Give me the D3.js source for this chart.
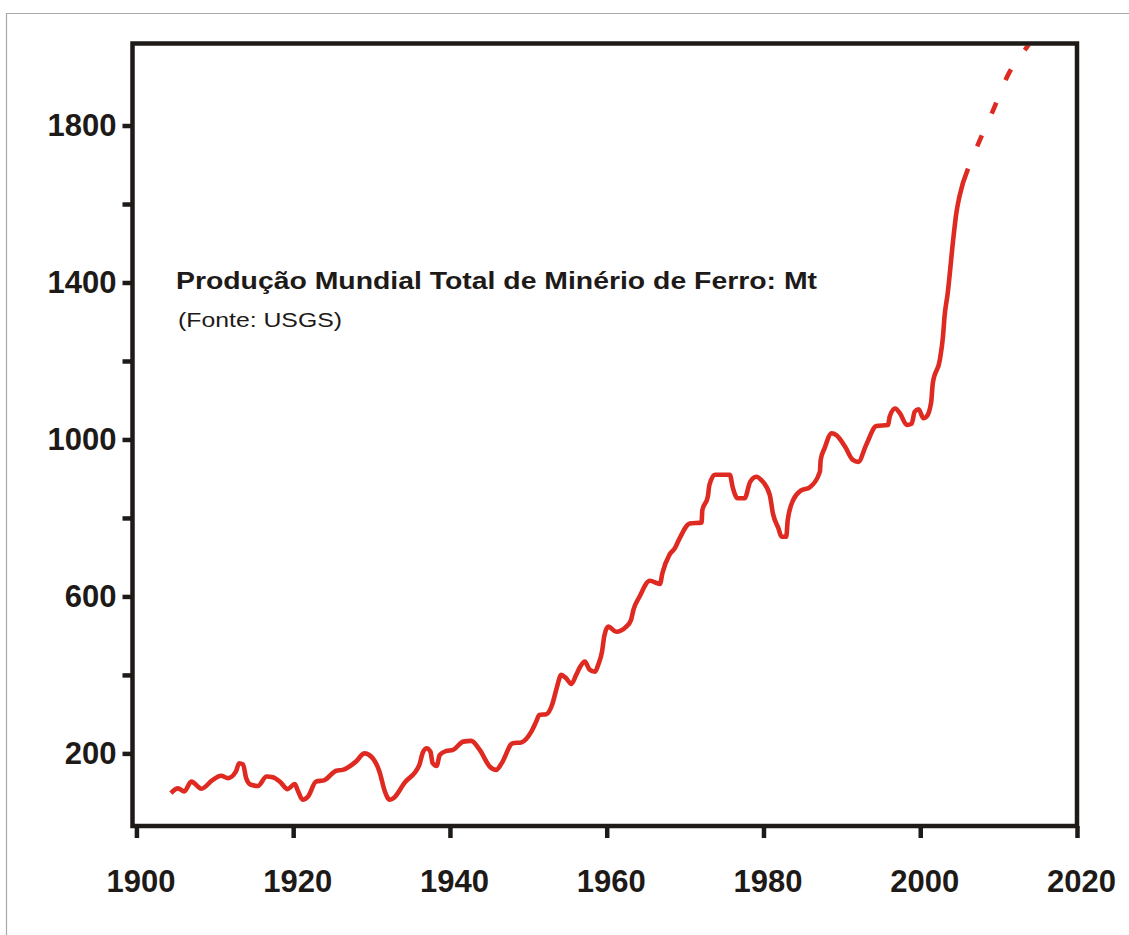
<!DOCTYPE html>
<html>
<head>
<meta charset="utf-8">
<script src="https://cdn.jsdelivr.net/npm/d3@7"></script>
<style>
  body { margin: 0; background: #fff; }
  svg { display: block; font-family: "Liberation Sans", Arial, sans-serif; }
</style>
</head>
<body>
<svg width="1129" height="935"></svg>
<script>
// world iron ore production, Mt
var years = [1904.4, 1905.3, 1906.1, 1907.0, 1908.3, 1909.7, 1910.8, 1911.7, 1912.7, 1913.1,
  1913.6, 1914.0, 1914.6, 1915.5, 1916.6, 1917.4, 1918.3, 1919.3, 1920.2, 1920.6,
  1921.2, 1921.9, 1922.9, 1924.0, 1925.5, 1926.3, 1928.0, 1929.1, 1929.7, 1931.0,
  1931.7, 1932.3, 1932.8, 1934.2, 1936.1, 1936.5, 1937.0, 1937.5, 1937.8, 1938.3, 1938.7, 1939.5,
  1940.4, 1941.7, 1942.7, 1943.8, 1945.1, 1945.9, 1946.6, 1948.0, 1949.1, 1950.4,
  1951.0, 1951.4, 1952.3, 1953.1, 1953.6, 1954.2, 1954.8, 1955.5, 1956.1, 1956.6,
  1957.2, 1957.8, 1958.5, 1958.9, 1959.4, 1959.7, 1960.2, 1961.2, 1962.5, 1963.1,
  1963.4, 1964.2, 1965.5, 1966.8, 1967.1, 1968.0, 1968.7, 1969.3, 1970.6, 1972.1,
  1972.2, 1972.9, 1973.1, 1973.8, 1975.7, 1976.1, 1976.7, 1977.6, 1978.3, 1979.1,
  1979.7, 1980.8, 1981.2, 1981.9, 1982.3, 1982.9, 1983.1, 1983.8, 1984.8, 1985.9,
  1987.2, 1987.3, 1987.8, 1988.7, 1989.3, 1990.4, 1991.4, 1992.1, 1993.1, 1994.4,
  1995.9, 1996.1, 1996.8, 1997.4, 1998.3, 1998.9, 1999.3, 1999.8, 2000.4, 2000.8,
  2001.4, 2001.6, 2002.5, 2002.9, 2003.1, 2003.5, 2004.2, 2004.6, 2005.0, 2006.1];
var production = [99, 111, 103, 128, 110, 132, 143, 137, 154, 175,
  172, 137, 120, 117, 141, 139, 128, 109, 122, 105,
  82, 90, 128, 132, 156, 158, 179, 200, 196, 154,
  103, 82, 86, 125, 171, 200, 213, 205, 175, 168, 196, 206,
  209, 230, 232, 209, 166, 158, 175, 226, 228, 256,
  281, 298, 300, 328, 365, 400, 392, 377, 400, 420,
  434, 414, 408, 425, 459, 500, 523, 510, 523, 540,
  565, 600, 640, 632, 659, 706, 723, 748, 786, 788,
  820, 854, 884, 910, 910, 876, 850, 850, 892, 905,
  897, 859, 812, 774, 752, 752, 795, 846, 870, 878,
  918, 948, 978, 1016, 1011, 982, 948, 943, 986, 1034,
  1037, 1058, 1079, 1067, 1037, 1040, 1071, 1077, 1054, 1058,
  1096, 1143, 1203, 1262, 1313, 1372, 1508, 1576, 1619, 1690];

// projected trend (dashed)
var projYears = [2006.1, 2007.6, 2009.3, 2011.2, 2013.8, 2015.5];
var projValues = [1690, 1763, 1839, 1929, 2005, 2055];

var xTicks = [1900, 1920, 1940, 1960, 1980, 2000, 2020];
var yTicks = [200, 400, 600, 800, 1000, 1200, 1400, 1600, 1800];
var yLabelled = [200, 600, 1000, 1400, 1800];

var title = "Produção Mundial Total de Minério de Ferro: Mt";
var subtitle = "(Fonte: USGS)";

var svg = d3.select("svg");
var red = "#de2a20", ink = "#1e1a18";

// plot box edges (avoid the name "top", it is window.top)
var pLeft = 132.5, pRight = 1077, pTop = 43.5, pBottom = 826;

var x = d3.scaleLinear().domain([1899.5, 2020]).range([pLeft, pRight]);
var y = d3.scaleLinear().domain([15, 2009]).range([pBottom, pTop]);

// outer grey frame
svg.append("path")
  .attr("d", "M6.5,935 V13.5 H1129")
  .attr("fill", "none")
  .attr("stroke", "#a8a8a8")
  .attr("stroke-width", 1.2);

svg.append("clipPath").attr("id", "plot")
  .append("rect")
  .attr("x", pLeft).attr("y", pTop + 2)
  .attr("width", pRight - pLeft).attr("height", pBottom - pTop - 2);

var line = d3.line()
  .x(function (d) { return x(d[0]); })
  .y(function (d) { return y(d[1]); })
  .curve(d3.curveMonotoneX);

svg.append("path")
  .datum(d3.zip(years, production))
  .attr("d", line)
  .attr("fill", "none")
  .attr("stroke", red)
  .attr("stroke-width", 4.6)
  .attr("stroke-linejoin", "round");

svg.append("path")
  .datum(d3.zip(projYears, projValues))
  .attr("d", line)
  .attr("clip-path", "url(#plot)")
  .attr("fill", "none")
  .attr("stroke", red)
  .attr("stroke-width", 4.6)
  .attr("stroke-dasharray", "12 24")
  .attr("stroke-dashoffset", -24);

// y axis
var yAxis = svg.append("g")
  .attr("transform", "translate(" + pLeft + ",0)")
  .call(d3.axisLeft(y)
    .tickValues(yTicks)
    .tickSize(10)
    .tickPadding(6)
    .tickFormat(function (d) { return yLabelled.indexOf(d) >= 0 ? d : ""; }));

// x axis
var xAxis = svg.append("g")
  .attr("transform", "translate(0," + pBottom + ")")
  .call(d3.axisBottom(x)
    .tickValues(xTicks)
    .tickSize(12)
    .tickPadding(32)
    .tickFormat(d3.format("d")));

[yAxis, xAxis].forEach(function (g) {
  g.select(".domain").remove();
  g.selectAll(".tick line").attr("stroke", ink).attr("stroke-width", 4.5);
  g.selectAll(".tick text")
    .attr("fill", ink)
    .attr("font-family", "'Liberation Sans', Arial, sans-serif")
    .attr("font-size", 31)
    .attr("font-weight", "bold");
});
xAxis.selectAll(".tick text").attr("dx", 4);

// plot frame
svg.append("rect")
  .attr("x", pLeft).attr("y", pTop)
  .attr("width", pRight - pLeft).attr("height", pBottom - pTop)
  .attr("fill", "none")
  .attr("stroke", ink)
  .attr("stroke-width", 4.5);

// title text is drawn wider than the plain font, as in the source
svg.append("text")
  .attr("x", 176).attr("y", 289)
  .attr("font-size", 23)
  .attr("font-weight", "bold")
  .attr("fill", ink)
  .attr("textLength", 641)
  .attr("lengthAdjust", "spacingAndGlyphs")
  .text(title);

svg.append("text")
  .attr("x", 178).attr("y", 327)
  .attr("font-size", 21)
  .attr("fill", ink)
  .attr("textLength", 164)
  .attr("lengthAdjust", "spacingAndGlyphs")
  .text(subtitle);
</script>
</body>
</html>
